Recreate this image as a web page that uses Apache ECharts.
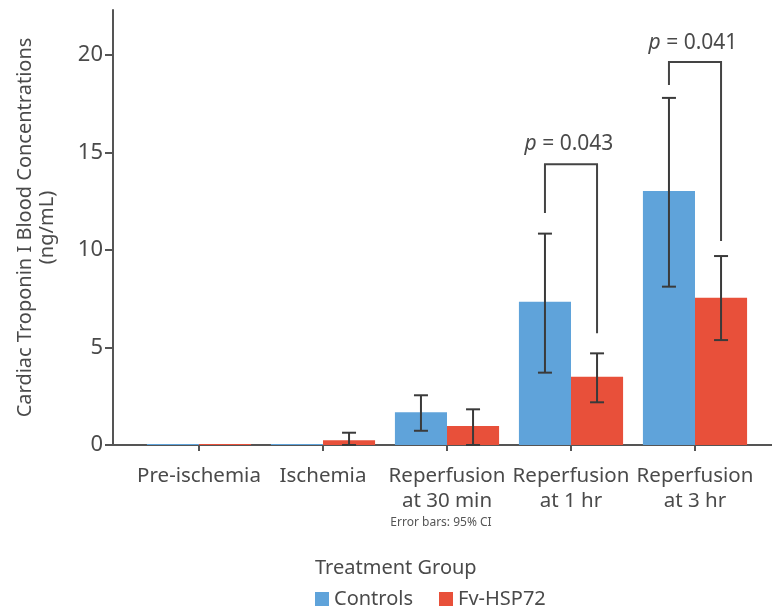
<!DOCTYPE html>
<html>
<head>
<meta charset="utf-8">
<script src="https://cdn.jsdelivr.net/npm/echarts@6/dist/echarts.min.js"></script>
<style>html,body{margin:0;padding:0;background:#fff}#c{width:772px;height:614px}</style>
</head>
<body>
<div id="c"></div>
<script>
const categories = ['Pre-ischemia', 'Ischemia', 'Reperfusion\nat 30 min', 'Reperfusion\nat 1 hr', 'Reperfusion\nat 3 hr'];
const controls = [0.05, 0.05, 1.68, 7.35, 13.03];
const fvHsp72 = [0.05, 0.25, 0.97, 3.5, 7.55];
const controlsLow = [null, null, 0.73, 3.71, 8.12];
const controlsHigh = [null, null, 2.55, 10.84, 17.8];
const fvLow = [null, 0, 0, 2.19, 5.38];
const fvHigh = [null, 0.63, 1.83, 4.70, 9.69];
const yTicks = [0, 5, 10, 15, 20];
// significance brackets
const pCategory = [3, 4];
const pValues = ['0.043', '0.041'];
const bracketTop = [14.4, 19.64];
const bracketLeftEnd = [11.9, 18.46];
const bracketRightEnd = [5.73, 10.46];
const pLabelAt = [15.45, 20.6];

const FONT = 'Noto Sans';
const TXT = '#4a4a4a';
const AX = '#555555';
const BLUE = '#5FA3DA';
const RED = '#E8503A';
const BAR_FRAC = 0.42;

function errData(low, high) {
  const out = [];
  low.forEach((l, i) => { if (l !== null && high[i] !== null) out.push([i, l, high[i]]); });
  return out;
}
function errRender(side) {
  return function (params, api) {
    const idx = api.value(0);
    const band = api.size([1, 0])[0];
    const off = side * band * BAR_FRAC / 2;
    const lo = api.coord([idx, api.value(1)]);
    const hi = api.coord([idx, api.value(2)]);
    const x = lo[0] + off;
    const cap = 7;
    const st = { stroke: '#3a3a3a', lineWidth: 2 };
    return {
      type: 'group',
      children: [
        { type: 'line', shape: { x1: x, y1: lo[1], x2: x, y2: hi[1] }, style: st },
        { type: 'line', shape: { x1: x - cap, y1: hi[1], x2: x + cap, y2: hi[1] }, style: st },
        { type: 'line', shape: { x1: x - cap, y1: lo[1], x2: x + cap, y2: lo[1] }, style: st }
      ]
    };
  };
}
const bracketData = pCategory.map((c, i) => [c, bracketTop[i], bracketLeftEnd[i], bracketRightEnd[i], pLabelAt[i], i]);

const chart = echarts.init(document.getElementById('c'), null, { renderer: 'canvas' });
chart.setOption({
  animation: false,
  textStyle: { fontFamily: FONT },
  grid: [
    { left: 137, right: 15, top: 55, bottom: 169 },
    { left: 113, right: 0, top: 10, bottom: 169 }
  ],
  title: {
    text: 'Treatment Group', left: 310, top: 553,
    textStyle: { fontFamily: FONT, fontSize: 20, fontWeight: 'normal', color: TXT }
  },
  legend: {
    data: ['Controls', 'Fv-HSP72'], left: 310, top: 584, icon: 'rect',
    itemWidth: 14, itemHeight: 14, itemGap: 26,
    textStyle: { fontFamily: FONT, fontSize: 20, color: TXT }
  },
  graphic: [
    { type: 'text', x: 441, y: 523, style: { text: 'Error bars: 95% CI', align: 'center', verticalAlign: 'middle', fontFamily: FONT, fontSize: 12, fill: '#555' } }
  ],
  xAxis: [
    {
      type: 'category', gridIndex: 0, data: categories,
      axisLine: { show: false },
      axisTick: { show: true, alignWithLabel: true, length: 6, lineStyle: { color: AX, width: 2 } },
      axisLabel: { fontFamily: FONT, fontSize: 20.5, color: TXT, margin: 19, lineHeight: 25, interval: 0 }
    },
    {
      type: 'value', gridIndex: 1, min: 0, max: 1, position: 'bottom',
      axisLine: { show: true, onZero: false, lineStyle: { color: AX, width: 2 } },
      axisTick: { show: false }, axisLabel: { show: false }, splitLine: { show: false }
    }
  ],
  yAxis: [
    {
      type: 'value', gridIndex: 0, min: yTicks[0], max: yTicks[yTicks.length - 1], interval: 5, offset: 24,
      axisLine: { show: false },
      axisTick: { show: true, length: 8, lineStyle: { color: AX, width: 2 } },
      axisLabel: { fontFamily: FONT, fontSize: 22, color: TXT, margin: 10 },
      splitLine: { show: false }
    },
    {
      type: 'value', gridIndex: 1, min: 0, max: 1,
      axisLine: { show: true, onZero: false, lineStyle: { color: AX, width: 2 } },
      axisTick: { show: false }, axisLabel: { show: false }, splitLine: { show: false },
      name: 'Cardiac Troponin I Blood Concentrations\n(ng/mL)', nameLocation: 'middle', nameGap: 55,
      nameTextStyle: { fontFamily: FONT, fontSize: 20, color: TXT, lineHeight: 22 }
    }
  ],
  series: [
    { name: 'Controls', type: 'bar', xAxisIndex: 0, yAxisIndex: 0, data: controls, barWidth: (BAR_FRAC * 100) + '%', barGap: '0%', itemStyle: { color: BLUE } },
    { name: 'Fv-HSP72', type: 'bar', xAxisIndex: 0, yAxisIndex: 0, data: fvHsp72, barWidth: (BAR_FRAC * 100) + '%', barGap: '0%', itemStyle: { color: RED } },
    { type: 'custom', xAxisIndex: 0, yAxisIndex: 0, data: errData(controlsLow, controlsHigh), renderItem: errRender(-1), clip: false, z: 5 },
    { type: 'custom', xAxisIndex: 0, yAxisIndex: 0, data: errData(fvLow, fvHigh), renderItem: errRender(1), clip: false, z: 5 },
    {
      type: 'custom', xAxisIndex: 0, yAxisIndex: 0, data: bracketData, clip: false, z: 5,
      renderItem: function (params, api) {
        const idx = api.value(0);
        const band = api.size([1, 0])[0];
        const off = band * BAR_FRAC / 2;
        const c = api.coord([idx, api.value(1)]);
        const yl = api.coord([idx, api.value(2)])[1];
        const yr = api.coord([idx, api.value(3)])[1];
        const yt = api.coord([idx, api.value(4)])[1];
        const i = api.value(5);
        return {
          type: 'group',
          children: [
            { type: 'polyline', shape: { points: [[c[0] - off, yl], [c[0] - off, c[1]], [c[0] + off, c[1]], [c[0] + off, yr]] },
              style: { stroke: '#444', lineWidth: 2, fill: null } },
            { type: 'text', x: c[0] - 2, y: yt,
              style: { text: '{i|p} = ' + pValues[i], align: 'center', verticalAlign: 'middle',
                fontFamily: FONT, fontSize: 21, fill: TXT,
                rich: { i: { fontStyle: 'italic', fontFamily: FONT, fontSize: 21, fill: TXT } } } }
          ]
        };
      }
    }
  ]
});
</script>
</body>
</html>
